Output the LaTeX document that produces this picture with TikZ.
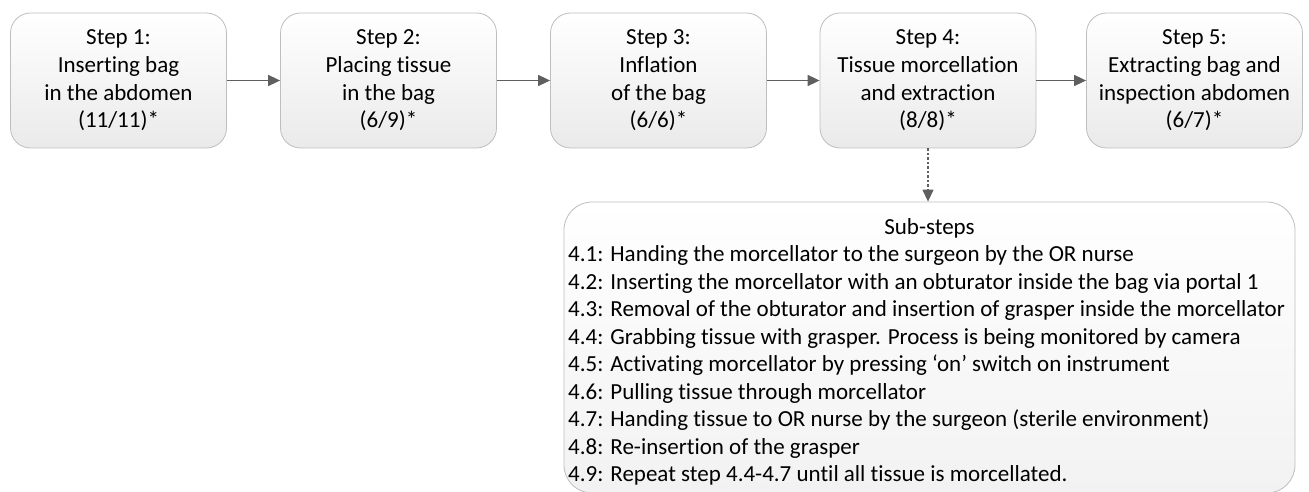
\documentclass[tikz,border=0pt]{standalone}
\usepackage{fontspec}
\setmainfont{Carlito}[Ligatures=NoCommon]
\usetikzlibrary{arrows.meta}
\definecolor{boxline}{RGB}{190,190,190}
\definecolor{arrowcol}{RGB}{95,95,95}
\definecolor{boxbottom}{RGB}{234,234,234}
\definecolor{subbottom}{RGB}{242,242,242}
\tikzset{
  stepbox/.style={draw=boxline, line width=0.8pt, rounded corners=20pt, top color=white, bottom color=boxbottom,
    minimum width=216pt, minimum height=135pt, align=center, inner sep=0pt,
    font=\fontsize{23pt}{27.6pt}\selectfont},
  subbox/.style={draw=boxline, line width=0.8pt, rounded corners=28pt, top color=white, bottom color=subbottom,
    minimum width=731pt, minimum height=291pt, inner sep=0pt},
  flow/.style={draw=arrowcol, line width=1.6pt, -{Triangle[length=12pt,width=11pt]}},
  dflow/.style={draw=arrowcol, line width=1.2pt, dash pattern=on 2.5pt off 2pt, -{Triangle[length=12pt,width=11pt]}},
  txt/.style={inner sep=0pt, font=\fontsize{23pt}{27.5pt}\selectfont}
}
\begin{document}
\begin{tikzpicture}[x=1pt,y=-1pt]
\useasboundingbox (0,0) rectangle (1309,492);
\node[stepbox] (s1) at (118.5,80.5) {Step 1:\\Inserting bag\\in the abdomen\\(11/11)*};
\node[stepbox] (s2) at (388.5,80.5) {Step 2:\\Placing tissue\\in the bag\\(6/9)*};
\node[stepbox] (s3) at (658.5,80.5) {Step 3:\\Inflation\\of the bag\\(6/6)*};
\node[stepbox] (s4) at (928,80.5) {Step 4:\\Tissue morcellation\\and extraction\\(8/8)*};
\node[stepbox] (s5) at (1194.5,80.5) {Step 5:\\Extracting bag and\\inspection abdomen\\(6/7)*};
\node[subbox] (sub) at (929.5,347.5) {};
\node[txt, anchor=base] (subtitle) at (929.5,234) {Sub-steps};
\node[txt, anchor=north west, align=left] (list) at (568,245.5) {4.1: Handing the morcellator to the surgeon by the OR nurse\\
4.2: Inserting the morcellator with an obturator inside the bag via portal 1\\
4.3: Removal of the obturator and insertion of grasper inside the morcellator\\
4.4: Grabbing tissue with grasper. Process is being monitored by camera\\
4.5: Activating morcellator by pressing ‘on’ switch on instrument\\
4.6: Pulling tissue through morcellator\\
4.7: Handing tissue to OR nurse by the surgeon (sterile environment)\\
4.8: Re-insertion of the grasper\\
4.9: Repeat step 4.4-4.7 until all tissue is morcellated.};
\draw[flow] (s1) -- (s2);
\draw[flow] (s2) -- (s3);
\draw[flow] (s3) -- (s4);
\draw[flow] (s4) -- (s5);
\draw[dflow] (s4.south) -- (sub.north -| s4.south);
\end{tikzpicture}
\end{document}
